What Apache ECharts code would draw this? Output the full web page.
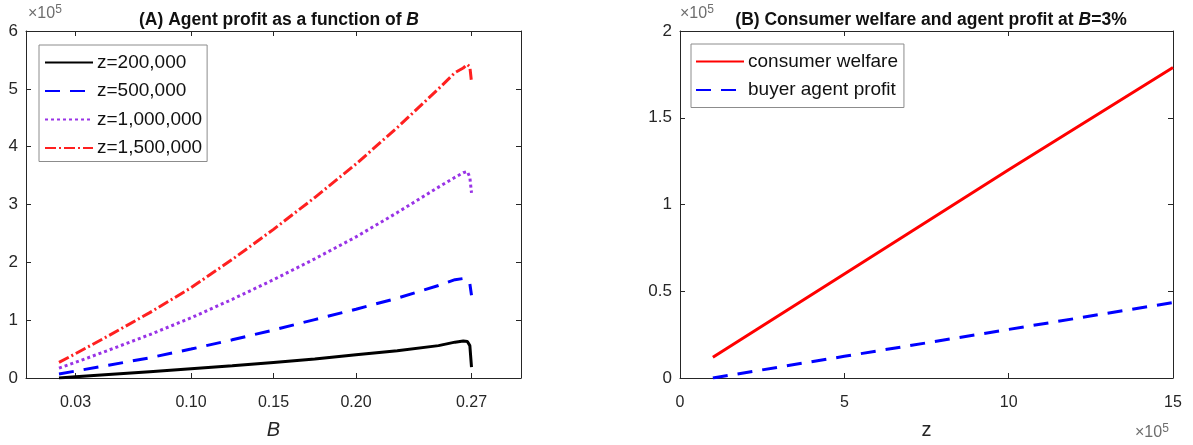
<!DOCTYPE html>
<html>
<head>
<meta charset="utf-8">
<script src="https://cdn.jsdelivr.net/npm/echarts@6/dist/echarts.min.js"></script>
<style>html,body{margin:0;padding:0;background:#fff;}#c{width:1193px;height:445px;}</style>
</head>
<body>
<div id="c"></div>
<script>
// ---- Panel A data (values in units of 1e5) ----
const B = [0.02, 0.03, 0.05, 0.075, 0.10, 0.125, 0.15, 0.175, 0.20, 0.225, 0.25, 0.26, 0.265, 0.2675, 0.269, 0.27];
const profit200k  = [0.00, 0.02, 0.06, 0.11, 0.16, 0.21, 0.27, 0.33, 0.40, 0.47, 0.56, 0.62, 0.64, 0.63, 0.56, 0.19];
const profit500k  = [0.07, 0.12, 0.22, 0.35, 0.50, 0.66, 0.83, 1.01, 1.19, 1.38, 1.60, 1.70, 1.72, 1.70, 1.63, 1.43];
const profit1000k = [0.17, 0.27, 0.48, 0.75, 1.04, 1.36, 1.70, 2.06, 2.44, 2.86, 3.30, 3.47, 3.55, 3.57, 3.47, 3.20];
const profit1500k = [0.27, 0.42, 0.73, 1.13, 1.56, 2.05, 2.57, 3.12, 3.70, 4.33, 5.00, 5.28, 5.36, 5.42, 5.38, 5.12];
const seriesNamesA = ['z=200,000', 'z=500,000', 'z=1,000,000', 'z=1,500,000'];
const xTicksA = [0.03, 0.10, 0.15, 0.20, 0.27];

// ---- Panel B data (z in units of 1e5, values in units of 1e5) ----
const zVals = [1, 5, 10, 15];
const welfare = [0.12, 0.60, 1.20, 1.79];
const agentProfit = [0.00, 0.125, 0.28, 0.435];
const seriesNamesB = ['consumer welfare', 'buyer agent profit'];

const zip = (xs, ys) => xs.map((x, i) => [x, ys[i]]);

const FONT = '"Liberation Sans", Arial, Helvetica, sans-serif';
const AX = '#262626';

function tick(extra) {
  return Object.assign({ show: true, inside: true, length: 5, lineStyle: { color: AX } }, extra || {});
}
function baseAxis(extra) {
  return Object.assign({
    type: 'value',
    axisLine: { show: true, onZero: false, lineStyle: { color: AX, width: 1 } },
    axisTick: tick(),
    splitLine: { show: false },
    axisLabel: { color: AX, fontSize: 16, fontFamily: FONT, margin: 10 }
  }, extra);
}
const legendCommon = {
  orient: 'vertical',
  itemWidth: 48, itemHeight: 14, itemGap: 7.5,
  backgroundColor: '#fff', borderColor: '#8c8c8c', borderWidth: 1,
  itemStyle: { opacity: 0 },
  textStyle: { fontSize: 19, lineHeight: 21, color: '#111', fontFamily: FONT, padding: [0, 0, 0, -1] }
};
const expLabel = (left, top) => ({
  type: 'text', left, top,
  style: {
    rich: {
      a: { fontSize: 16, fill: '#6e6e6e', fontFamily: FONT },
      s: { fontSize: 12, fill: '#6e6e6e', fontFamily: FONT, verticalAlign: 'top', padding: [0, 0, 7, 0] }
    },
    text: '{a|×10}{s|5}'
  }
});
const titleRich = {
  b: { fontSize: 17.5, fontWeight: 'bold', fontFamily: FONT, color: '#111' },
  i: { fontSize: 17.5, fontWeight: 'bold', fontStyle: 'italic', fontFamily: FONT, color: '#111' }
};

const chart = echarts.init(document.getElementById('c'), null, { renderer: 'canvas' });

const option = {
  backgroundColor: '#fff',
  animation: false,
  title: [
    { text: '{b|(A) Agent profit as a function of }{i|B}', left: 274, top: 6, textAlign: 'center', textStyle: { rich: titleRich } },
    { text: '{b|(B) Consumer welfare and agent profit at }{i|B}{b|=3%}', left: 926, top: 6, textAlign: 'center', textStyle: { rich: titleRich } }
  ],
  grid: [
    { left: 26, top: 31, width: 495, height: 352, show: false },
    { left: 680, top: 31, width: 493, height: 352, show: false }
  ],
  xAxis: [
    baseAxis({
      gridIndex: 0, min: 0, max: 0.3, position: 'bottom',
      axisLabel: { color: AX, fontSize: 16, fontFamily: FONT, margin: 17, customValues: xTicksA, formatter: v => v.toFixed(2) },
      axisTick: tick({ customValues: xTicksA }),
      name: 'B', nameLocation: 'middle', nameGap: 42,
      nameTextStyle: { fontSize: 20, fontStyle: 'italic', color: AX, fontFamily: FONT }
    }),
    baseAxis({
      gridIndex: 0, min: 0, max: 0.3, position: 'top',
      axisLabel: { show: false, customValues: xTicksA },
      axisTick: tick({ customValues: xTicksA })
    }),
    baseAxis({
      gridIndex: 1, min: 0, max: 15, interval: 5, position: 'bottom',
      axisLabel: { color: AX, fontSize: 16, fontFamily: FONT, margin: 17 },
      name: 'z', nameLocation: 'middle', nameGap: 42,
      nameTextStyle: { fontSize: 20, color: AX, fontFamily: FONT }
    }),
    baseAxis({
      gridIndex: 1, min: 0, max: 15, interval: 5, position: 'top',
      axisLabel: { show: false }
    })
  ],
  yAxis: [
    baseAxis({ gridIndex: 0, min: 0, max: 6, interval: 1, position: 'left', axisLabel: { color: AX, fontSize: 17, fontFamily: FONT, margin: 8 } }),
    baseAxis({ gridIndex: 0, min: 0, max: 6, interval: 1, position: 'right', axisLabel: { show: false } }),
    baseAxis({ gridIndex: 1, min: 0, max: 2, interval: 0.5, position: 'left', axisLabel: { color: AX, fontSize: 17, fontFamily: FONT, margin: 8 } }),
    baseAxis({ gridIndex: 1, min: 0, max: 2, interval: 0.5, position: 'right', axisLabel: { show: false } })
  ],
  legend: [
    Object.assign({}, legendCommon, { data: seriesNamesA, left: 39, top: 45, padding: [7, 5, 3, 5] }),
    Object.assign({}, legendCommon, { data: seriesNamesB, left: 691, top: 44, padding: [7, 6, 7, 4] })
  ],
  graphic: [ expLabel(28, 4), expLabel(680, 4), expLabel(1135, 423) ],
  series: [
    { name: seriesNamesA[0], type: 'line', xAxisIndex: 0, yAxisIndex: 0, symbol: 'none', data: zip(B, profit200k),
      lineStyle: { color: '#000', width: 3, type: 'solid' }, itemStyle: { color: '#000' } },
    { name: seriesNamesA[1], type: 'line', xAxisIndex: 0, yAxisIndex: 0, symbol: 'none', data: zip(B, profit500k),
      lineStyle: { color: '#0000ff', width: 3, type: [15, 10] }, itemStyle: { color: '#0000ff' } },
    { name: seriesNamesA[2], type: 'line', xAxisIndex: 0, yAxisIndex: 0, symbol: 'none', data: zip(B, profit1000k),
      lineStyle: { color: '#9933e6', width: 3, type: [3, 3] }, itemStyle: { color: '#9933e6' } },
    { name: seriesNamesA[3], type: 'line', xAxisIndex: 0, yAxisIndex: 0, symbol: 'none', data: zip(B, profit1500k),
      lineStyle: { color: '#ff2020', width: 3, type: [11, 3, 2, 3] }, itemStyle: { color: '#ff2020' } },
    { name: seriesNamesB[0], type: 'line', xAxisIndex: 2, yAxisIndex: 2, symbol: 'none', data: zip(zVals, welfare),
      lineStyle: { color: '#ff0000', width: 3, type: 'solid' }, itemStyle: { color: '#ff0000' } },
    { name: seriesNamesB[1], type: 'line', xAxisIndex: 2, yAxisIndex: 2, symbol: 'none', data: zip(zVals, agentProfit),
      lineStyle: { color: '#0000ff', width: 3, type: [15, 10] }, itemStyle: { color: '#0000ff' } }
  ]
};
chart.setOption(option);
</script>
</body>
</html>
